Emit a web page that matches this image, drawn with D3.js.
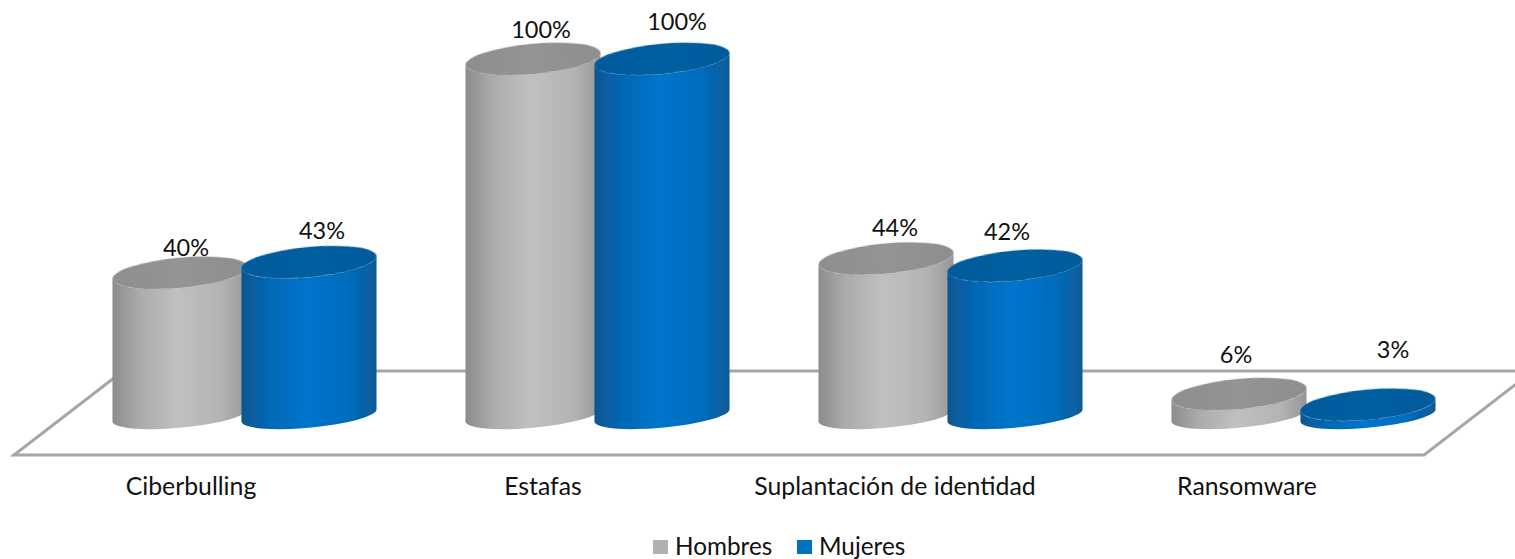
<!DOCTYPE html>
<html>
<head>
<meta charset="utf-8">
<script src="https://cdn.jsdelivr.net/npm/d3@7"></script>
<style>
  html, body { margin: 0; padding: 0; background: #fff; overflow: hidden; }
  text { font-family: Lato, "Noto Sans", sans-serif; fill: #111; }
</style>
</head>
<body>
<div id="chart"></div>
<script>
const categories = ["Ciberbulling", "Estafas", "Suplantación de identidad", "Ransomware"];
const seriesNames = ["Hombres", "Mujeres"];
const hombres = [40, 100, 44, 6];
const mujeres = [43, 100, 42, 3];

// labels in the original are not centred on the cylinders, so nudge them by hand
const labelNudge = {
    Hombres: [[6, -17], [8, -21], [9, -23], [-3, -31]],
    Mujeres: [[13, -23], [15, -29], [-8, -26], [25, -47]]
};

const width = 1515, height = 559;
const baseY = 415.5;

// cylinder ellipses
const rx = 67.8, ryTop = 15.2, ryBase = 12.2, tilt = -5.3;

const svg = d3.select("#chart").append("svg")
    .attr("width", width)
    .attr("height", height);

const x0 = d3.scaleBand().domain(categories).range([68, 1480]).paddingInner(0).paddingOuter(0);
const x1 = d3.scalePoint().domain(seriesNames).range([x0.bandwidth() / 2 - 64.5, x0.bandwidth() / 2 + 64.5]);
const xLabel = d3.scaleBand().domain(categories).range([15, 1423]);
const y = d3.scaleLinear().domain([0, 100]).range([baseY, 59]);

const colors = {
    Hombres: { legend: "#b0b0b0", edge: "#8c8c8c", mid: "#c0c0c0", far: "#979797", top: "#8e8e8e", topLight: "#949494" },
    Mujeres: { legend: "#0070c0", edge: "#0b5590", mid: "#0074cc", far: "#0a5a96", top: "#005a9c", topLight: "#005f9f" }
};

// gradients
const defs = svg.append("defs");
seriesNames.forEach(name => {
    const c = colors[name];
    const side = defs.append("linearGradient").attr("id", "side" + name);
    [[0, c.edge], [0.2, d3.interpolateRgb(c.edge, c.mid)(0.6)], [0.48, c.mid], [0.8, d3.interpolateRgb(c.far, c.mid)(0.7)], [1, c.far]]
        .forEach(s => side.append("stop").attr("offset", s[0]).attr("stop-color", s[1]));
    const top = defs.append("linearGradient").attr("id", "top" + name);
    [[0, c.top], [0.5, c.topLight], [1, c.top]]
        .forEach(s => top.append("stop").attr("offset", s[0]).attr("stop-color", s[1]));
});
defs.append("filter").attr("id", "soft")
    .attr("x", "-5%").attr("width", "110%")
    .append("feGaussianBlur").attr("stdDeviation", 0.5);

// floor of the 3d plot
const floorPts = [[14, 455], [1424, 455], [1533, 371], [123, 371]];
svg.append("path")
    .attr("d", d3.line()(floorPts) + "Z")
    .attr("fill", "none")
    .attr("stroke", "#a6a6a6")
    .attr("stroke-width", 3);

const rows = [];
categories.forEach((cat, i) => {
    rows.push({ cat, i, name: "Hombres", value: hombres[i] });
    rows.push({ cat, i, name: "Mujeres", value: mujeres[i] });
});
const pct = d => d3.format("d")(d) + "%";
const cx = d => x0(d.cat) + x1(d.name);

// value labels sit under the cylinders, the 40% one gets clipped by the grey top
svg.append("g").selectAll("text")
    .data(rows)
    .join("text")
    .attr("x", d => cx(d) + labelNudge[d.name][d.i][0])
    .attr("y", d => y(d.value) + labelNudge[d.name][d.i][1])
    .attr("text-anchor", "middle")
    .attr("font-size", 23.5)
    .text(d => pct(d.value));

// where the tilted ellipse reaches its leftmost / rightmost x
function sideOffset(ry) {
    const t = tilt * Math.PI / 180;
    const hw = Math.sqrt(rx * rx * Math.cos(t) ** 2 + ry * ry * Math.sin(t) ** 2);
    const dy = (rx * rx - ry * ry) * Math.sin(t) * Math.cos(t) / hw;
    return { hw, dy };
}

function bodyPath(d) {
    const c = cx(d), top = y(d.value);
    const a = sideOffset(ryTop), b = sideOffset(ryBase);
    return `M${c - a.hw},${top - a.dy}`
        + `L${c - b.hw},${baseY - b.dy}`
        + `A${rx},${ryBase} ${tilt} 0 0 ${c + b.hw},${baseY + b.dy}`
        + `L${c + a.hw},${top + a.dy}`
        + `A${rx},${ryTop} ${tilt} 0 1 ${c - a.hw},${top - a.dy}Z`;
}

const cyl = svg.append("g").selectAll("g")
    .data(rows)
    .join("g");

cyl.append("path")
    .attr("d", bodyPath)
    .attr("filter", "url(#soft)")
    .attr("fill", d => `url(#side${d.name})`);

cyl.append("ellipse")
    .attr("rx", rx)
    .attr("ry", ryTop)
    .attr("transform", d => `translate(${cx(d)},${y(d.value)}) rotate(${tilt})`)
    .attr("filter", "url(#soft)")
    .attr("fill", d => `url(#top${d.name})`);

// category labels
svg.append("g").selectAll("text")
    .data(categories)
    .join("text")
    .attr("x", d => xLabel(d) + xLabel.bandwidth() / 2)
    .attr("y", 495)
    .attr("text-anchor", "middle")
    .attr("font-size", 24.8)
    .text(d => d);

// legend
const legendX = { Hombres: 653, Mujeres: 797 };
const legend = svg.append("g").selectAll("g")
    .data(seriesNames)
    .join("g")
    .attr("transform", d => `translate(${legendX[d]},540)`);

legend.append("rect")
    .attr("width", 15)
    .attr("height", 14)
    .attr("fill", d => colors[d].legend);

legend.append("text")
    .attr("x", 22)
    .attr("y", 15)
    .attr("font-size", 24.3)
    .text(d => d);
</script>
</body>
</html>
